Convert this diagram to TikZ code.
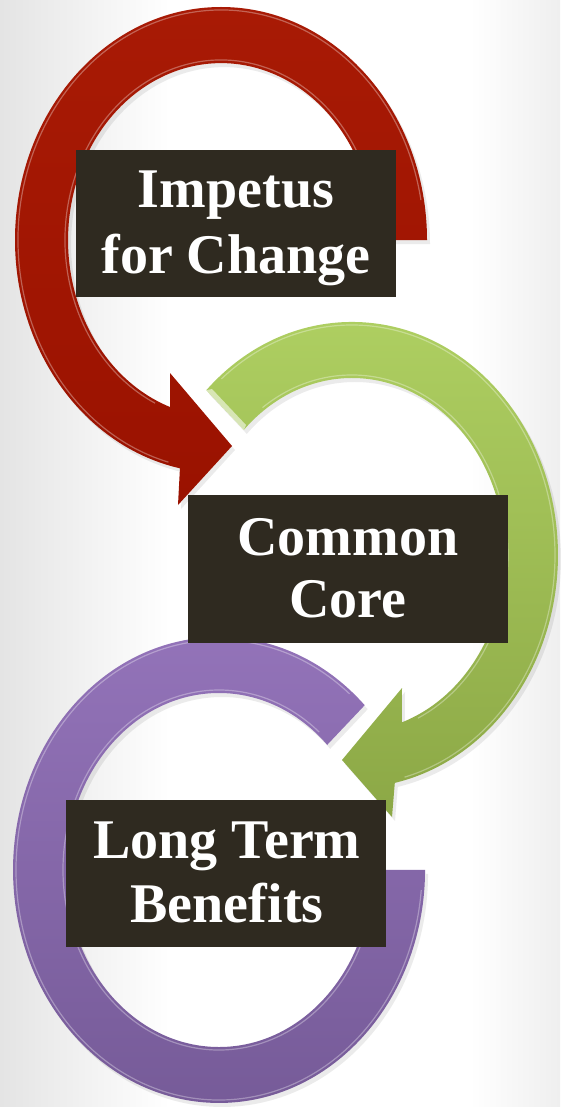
\documentclass[tikz,border=0pt]{standalone}
\usepackage{fontspec}
\setmainfont{Liberation Serif}
\definecolor{redA}{HTML}{A81A05}
\definecolor{redB}{HTML}{9A1200}
\definecolor{grnA}{HTML}{AFD062}
\definecolor{grnB}{HTML}{8CA846}
\definecolor{purA}{HTML}{9474BA}
\definecolor{purB}{HTML}{755A97}
\definecolor{boxc}{HTML}{2F2A20}
\definecolor{bgedge}{HTML}{E4E4E4}
\begin{document}
\begin{tikzpicture}[x=1pt,y=1pt,
  box/.style={fill=boxc, draw=none, minimum width=320pt, inner sep=0pt},
  lbl/.style={text=white, font=\fontsize{56}{65}\bfseries\selectfont, anchor=base, inner sep=0pt},
  hl/.style={line width=1.2pt, opacity=0.32},
  shadowc/.style={fill=black, opacity=0.08}]
% background
\fill[white] (0,0) rectangle (560,-1107);
\shade[left color=bgedge, right color=white] (0,0) rectangle (170,-1107);
\shade[left color=white, right color=bgedge!60] (470,0) rectangle (560,-1107);
\useasboundingbox (0,0) rectangle (560,-1107);

% ---------- shadows ----------
\begin{scope}[shift={(3,-4)}]
\fill[shadowc] (427,-240) arc[start angle=0, end angle=258.5, x radius=206pt, y radius=233pt]
  -- (178,-505) -- (232,-446) -- (170,-373) -- (170,-407)
  arc[start angle=250.5, end angle=0, x radius=153pt, y radius=177pt] -- cycle;
\fill[shadowc] (206.3,-390.2) arc[start angle=135, end angle=-78, x radius=206pt, y radius=233pt]
  -- (392,-817) -- (342,-760) -- (402,-688) -- (401.8,-722.4)
  arc[start angle=-71, end angle=135, x radius=153pt, y radius=177pt] -- cycle;
\fill[shadowc] (364.7,-705.2) arc[start angle=45, end angle=360, x radius=206pt, y radius=233pt]
  -- (372,-870) arc[start angle=360, end angle=45, x radius=153pt, y radius=177pt] -- cycle;
\end{scope}

% ---------- red arrow ----------
\shade[top color=redA, bottom color=redB] (427,-240)
  arc[start angle=0, end angle=258.5, x radius=206pt, y radius=233pt]
  -- (178,-505) -- (232,-446) -- (170,-373) -- (170,-407)
  arc[start angle=250.5, end angle=0, x radius=153pt, y radius=177pt] -- cycle;
\draw[hl, white] (221,-240) ++(10:203pt and 230pt) arc[start angle=10, end angle=255, x radius=203pt, y radius=230pt];
\draw[hl, white] (221,-240) ++(20:156pt and 180pt) arc[start angle=20, end angle=245, x radius=156pt, y radius=180pt];

% ---------- green arrow ----------
\shade[top color=grnA, bottom color=grnB] (206.3,-390.2)
  arc[start angle=135, end angle=-78, x radius=206pt, y radius=233pt]
  -- (392,-817) -- (342,-760) -- (402,-688) -- (401.8,-722.4)
  arc[start angle=-71, end angle=135, x radius=153pt, y radius=177pt] -- cycle;
\draw[hl, white] (352,-555) ++(130:203pt and 230pt) arc[start angle=130, end angle=-75, x radius=203pt, y radius=230pt];
\draw[hl, white] (352,-555) ++(125:156pt and 180pt) arc[start angle=125, end angle=-65, x radius=156pt, y radius=180pt];
\fill[white, opacity=0.55] (206.3,-390.2) -- (243.8,-430.2) -- (246,-425) -- (212,-389) -- cycle;

% ---------- purple ring ----------
\shade[top color=purA, bottom color=purB] (364.7,-705.2)
  arc[start angle=45, end angle=360, x radius=206pt, y radius=233pt]
  -- (372,-870) arc[start angle=360, end angle=45, x radius=153pt, y radius=177pt] -- cycle;
\draw[hl, white] (219,-870) ++(50:203pt and 230pt) arc[start angle=50, end angle=355, x radius=203pt, y radius=230pt];
\draw[hl, white] (219,-870) ++(50:156pt and 180pt) arc[start angle=50, end angle=355, x radius=156pt, y radius=180pt];

% ---------- boxes ----------
\node[box, minimum height=147pt] (impbox) at (236,-223.5) {};
\node[lbl] (impA) at (236,-208) {Impetus};
\node[lbl] (impB) at (236,-273) {for Change};

\node[box, minimum height=148pt] (ccbox) at (348,-569) {};
\node[lbl] (ccA) at (348,-555) {Common};
\node[lbl] (ccB) at (348,-617) {Core};

\node[box, minimum height=147pt] (ltbox) at (226,-873.5) {};
\node[lbl] (ltA) at (227,-858) {Long Term};
\node[lbl] (ltB) at (227,-922) {Benefits};
\end{tikzpicture}
\end{document}
